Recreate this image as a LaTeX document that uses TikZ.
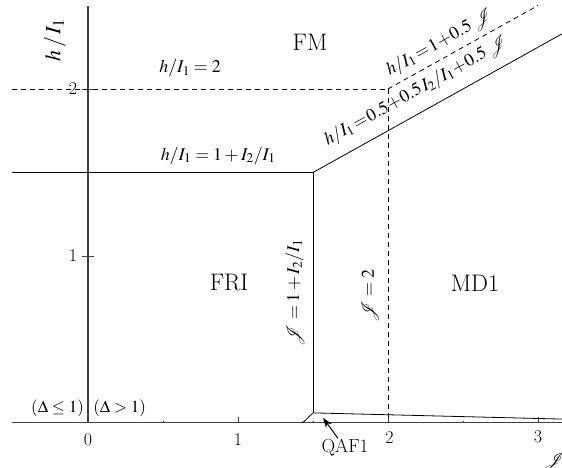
\documentclass[tikz,border=0pt]{standalone}
\usepackage{mathptmx}
\usepackage{tikz}
\usetikzlibrary{arrows.meta,positioning,calc}

\begin{document}
\begin{tikzpicture}[x=5.292cm, y=5.891cm,
    every node/.style={font=\fontsize{18}{20}\selectfont, inner sep=1pt},
    axis/.style={line width=1.1pt, black!75},
    phase/.style={line width=0.8pt, black},
    crossover/.style={line width=0.8pt, black, dash pattern=on 5bp off 4bp},
    region/.style={font=\fontsize{24}{26}\selectfont},
    slanted/.style={rotate=29.1, inner sep=0pt}]
  \useasboundingbox (-0.587,-0.269) rectangle (3.16,2.533);
  % Axes
  \coordinate (xl) at (-0.51,0);
  \coordinate (xr) at (3.25,0);
  \coordinate (o) at (0,0);
  \coordinate (yt) at (0,2.5);
  \draw[axis] (xl) -- (xr);
  \draw[axis] (o) -- (yt);
  \foreach \t in {1,2,3} \draw[axis, line width=0.8pt] (\t,0) -- (\t,0.036);
  \foreach \t in {0.5,1.5,2.5} \draw[axis, line width=0.6pt] (\t,0) -- (\t,0.012);
  \foreach \t in {1,2} \draw[axis, line width=0.8pt] (-0.04,\t) -- (0.04,\t);
  % Phase boundaries
  \coordinate (hl) at (-0.51,1.5);
  \coordinate (tri) at (1.5,1.5);
  \coordinate (qaf) at (1.5,0.06);
  \coordinate (qafb) at (1.43,0);
  \coordinate (qafr) at (3.25,0.021);
  \coordinate (dr) at (3.25,2.375);
  \draw[phase] (hl) -- (tri);
  \draw[phase] (tri) -- (qaf);
  \draw[phase] (qaf) -- (qafb);
  \draw[phase] (qaf) -- (qafr);
  \draw[phase] (tri) -- (dr);
  % Crossover lines
  \coordinate (dl) at (-0.51,2);
  \coordinate (cr) at (2,2);
  \coordinate (cb) at (2,0);
  \coordinate (ct) at (3,2.5);
  \draw[crossover] (dl) -- (cr);
  \draw[crossover] (cr) -- (cb);
  \draw[crossover] (cr) -- (ct);
  % Tick labels
  \node (x0) at (0,-0.10) {0};
  \node (x1) at (1,-0.10) {1};
  \node (x2) at (2.01,-0.085) {2};
  \node (x3) at (3,-0.085) {3};
  \node (y1) at (-0.10,1) {1};
  \node (y2) at (-0.10,2) {2};
  \node (xlab) at (3.11,-0.234) {$\mathcal{J}$};
  \node[rotate=90, font=\fontsize{22}{24}\selectfont] (ylab) at (-0.22,2.293) {$h\,/\,I_1$};
  % Regions
  \node[region] (fm) at (1.48,2.28) {FM};
  \node[region] (fri) at (0.94,0.838) {FRI};
  \node[region] (md) at (2.58,0.838) {MD1};
  % Labels
  \node (l2) at (0.68,2.126) {$h/I_1 = 2$};
  \node (lh) at (0.867,1.60) {$h/I_1 = 1 + I_2/I_1$};
  \node[rotate=90] (lv) at (1.38,0.778) {$\mathcal{J} = 1 + I_2/I_1$};
  \node[rotate=90] (lc) at (1.88,0.76) {$\mathcal{J} = 2$};
  \node[slanted] (ld) at (2.19,1.985) {$h/I_1 \!=\! 0.5 \!+\! 0.5\, I_2/I_1 \!+\! 0.5\, \mathcal{J}$};
  \node[slanted] (lcd) at (2.347,2.275) {$h/I_1 \!=\! 1 \!+\! 0.5\, \mathcal{J}$};
  \node[anchor=east, font=\fontsize{17}{19}\selectfont] (dle) at (-0.02,0.09) {$(\Delta \le 1)$};
  \node[anchor=west, font=\fontsize{17}{19}\selectfont] (dgt) at (0.027,0.09) {$(\Delta > 1)$};
  \node[font=\fontsize{19}{21}\selectfont] (qlab) at (1.713,-0.15) {QAF1};
  \coordinate (qpt) at (1.567,0.03);
  % Arrows
  \draw[-{Stealth[length=10pt,width=7pt]}, line width=1pt] (qlab) -- (qpt);
\end{tikzpicture}
\end{document}
